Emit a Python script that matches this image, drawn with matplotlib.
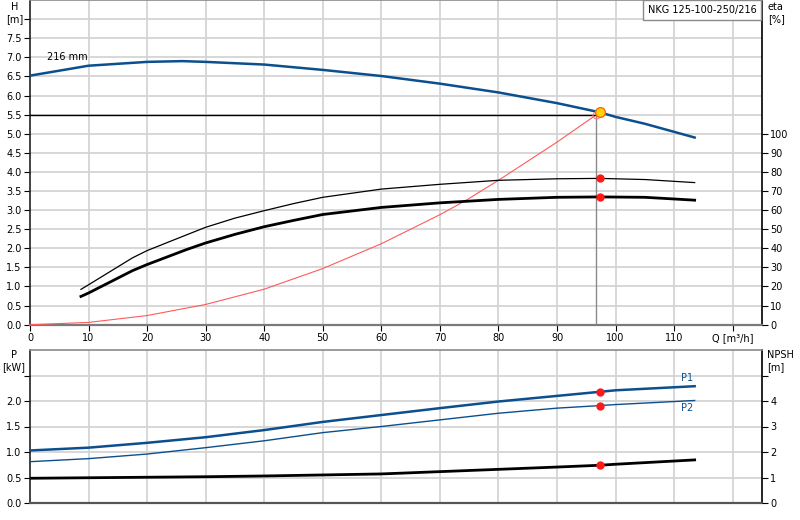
import matplotlib
matplotlib.use("Agg")
import matplotlib.pyplot as plt

# ---- data ----
q_head = [0, 10, 20, 26, 30, 40, 50, 60, 70, 80, 90, 97.3, 100, 105, 113.5]
h_head = [6.52, 6.78, 6.88, 6.90, 6.88, 6.81, 6.67, 6.51, 6.31, 6.08, 5.80, 5.56, 5.44, 5.26, 4.90]

q_eta = [8.7, 10, 17.5, 20, 26.7, 30, 35, 40, 45, 50, 60, 70, 80, 90, 97.3, 105, 113.5]
eta_thin = [18.5, 20.9, 35.0, 38.8, 47.0, 51.0, 55.8, 59.7, 63.4, 66.7, 71.0, 73.5, 75.6, 76.4, 76.6, 76.0, 74.4]
eta_thick = [14.8, 16.6, 28.3, 31.5, 39.3, 42.8, 47.3, 51.3, 54.6, 57.7, 61.4, 63.8, 65.6, 66.7, 66.9, 66.7, 65.2]

q_sys = [0, 10, 20, 30, 40, 50, 60, 70, 74.4, 80, 90, 97.3]
h_sys = [0, 0.06, 0.24, 0.53, 0.93, 1.47, 2.12, 2.88, 3.25, 3.78, 4.78, 5.56]

q_req, h_req = 96.7, 5.5
q_duty, h_duty = 97.3, 5.56
eta_duty = [76.6, 66.9]

q_pow = [0, 10, 20, 30, 40, 50, 60, 70, 80, 90, 97.3, 100, 113.5]
p1 = [1.03, 1.085, 1.18, 1.29, 1.43, 1.59, 1.725, 1.86, 1.99, 2.10, 2.18, 2.21, 2.29]
p2 = [0.81, 0.87, 0.96, 1.085, 1.22, 1.38, 1.50, 1.63, 1.76, 1.86, 1.91, 1.93, 2.01]
npsh = [0.97, 0.99, 1.01, 1.03, 1.06, 1.10, 1.14, 1.23, 1.32, 1.41, 1.48, 1.52, 1.69]
p_duty = [2.18, 1.91]
npsh_duty = 1.48

x_ticks = [0, 10, 20, 30, 40, 50, 60, 70, 80, 90, 100, 110, 120]
x_labels = ["0", "10", "20", "30", "40", "50", "60", "70", "80", "90", "100", "110", "Q [m³/h]"]
h_ticks = [0.0, 0.5, 1.0, 1.5, 2.0, 2.5, 3.0, 3.5, 4.0, 4.5, 5.0, 5.5, 6.0, 6.5, 7.0, 7.5, 8.0]
eta_ticks = [0, 10, 20, 30, 40, 50, 60, 70, 80, 90, 100]
p_ticks = [0.0, 0.5, 1.0, 1.5, 2.0, 2.5]
npsh_ticks = [0, 1, 2, 3, 4, 5]
title = "NKG 125-100-250/216"
impeller = "216 mm"

# ---- style ----
BLUE = "#0b4f8e"
GRID = "#d4d4d4"
FS = 7
plt.rcParams["font.family"] = ["DejaVu Sans"]

fig = plt.figure(figsize=(8, 5.2), dpi=100)
ax = fig.add_axes([30/800, 1 - 324.7/520, 732/800, 324.7/520])
axb = fig.add_axes([30/800, 1 - 503/520, 732/800, 153/520])

def style(a, ylim):
    a.set_xlim(0, 125)
    a.set_ylim(*ylim)
    a.set_xticks(x_ticks)
    for x in x_ticks[1:]:
        a.axvline(x, color=GRID, lw=1.3, zorder=0)
    a.spines["left"].set_color("#222222")
    a.spines["left"].set_linewidth(1.2)
    a.spines["right"].set_color("black")
    a.spines["right"].set_linewidth(1.2)
    a.spines["top"].set_color("#8a8a8a")
    a.spines["top"].set_linewidth(1.2)
    a.spines["bottom"].set_color("#7a7a7a")
    a.spines["bottom"].set_linewidth(1.6)
    a.tick_params(axis="both", labelsize=FS, length=4, width=0.8, colors="black", pad=2)

# ---- top panel ----
style(ax, (0, 8.5))
for y in h_ticks[1:]:
    ax.axhline(y, color=GRID, lw=1.3, zorder=0)
ax.set_yticks(h_ticks)
ax.set_yticklabels([f"{v:.1f}" if v < 8 else "" for v in h_ticks])
ax.set_xticklabels(x_labels)

ax.plot(q_head, h_head, color=BLUE, lw=1.8, zorder=4)
ax.plot(q_sys, h_sys, color="#ff5a5a", lw=0.8, zorder=3)
ax.plot([0, q_req], [h_req, h_req], color="black", lw=1.0, zorder=3)
ax.plot([q_req, q_req], [0, h_req], color="#8a8a8a", lw=1.0, zorder=3)
ax.plot([q_req], [h_req], marker="o", ms=5, mfc="none", mec="#ff8080", mew=0.8, zorder=5)
ax.plot([q_duty], [h_duty], marker="o", ms=7, mfc="#ffd400", mec="#ff6a00", mew=1.0, zorder=6)
ax.text(2.85, 7.0, impeller, fontsize=FS, va="center", ha="left")
ax.text(0.9925, 0.985, title, transform=ax.transAxes, fontsize=7, ha="right", va="top",
        bbox=dict(boxstyle="square,pad=0.5", fc="white", ec="#8a8a8a", lw=1.0), zorder=10)

axe = ax.twinx()
axe.set_ylim(0, 170)
axe.set_yticks(eta_ticks)
axe.tick_params(axis="y", labelsize=FS, length=4, width=0.8, pad=2)
for s in axe.spines.values():
    s.set_visible(False)
axe.plot(q_eta, eta_thin, color="black", lw=0.9, zorder=4)
axe.plot(q_eta, eta_thick, color="black", lw=2.0, zorder=4)
axe.plot([q_duty, q_duty], eta_duty, ls="none", marker="o", ms=5, color="#ff1a1a", zorder=6)

# ---- bottom panel ----
style(axb, (0, 3.0))
for y in [0.5, 1.0, 1.5, 2.0, 2.5]:
    axb.axhline(y, color=GRID, lw=1.3, zorder=0)
axb.set_yticks(p_ticks)
axb.set_yticklabels([f"{v:.1f}" if v < 2.5 else "" for v in p_ticks])
axb.tick_params(axis="x", length=0, labelbottom=False)
axb.spines["bottom"].set_color("#555555")
axb.plot(q_pow, p1, color=BLUE, lw=1.8, zorder=4)
axb.plot(q_pow, p2, color=BLUE, lw=1.0, zorder=4)
axb.plot([q_duty, q_duty], p_duty, ls="none", marker="o", ms=5, color="#ff1a1a", zorder=6)
axb.text(112.2, 2.36, "P1", fontsize=FS, color=BLUE, ha="center", va="bottom")
axb.text(112.2, 1.97, "P2", fontsize=FS, color=BLUE, ha="center", va="top")

axn = axb.twinx()
axn.set_ylim(0, 6)
axn.set_yticks(npsh_ticks)
axn.set_yticklabels([str(v) if v < 5 else "" for v in npsh_ticks])
axn.tick_params(axis="y", labelsize=FS, length=4, width=0.8, pad=2)
for s in axn.spines.values():
    s.set_visible(False)
axn.plot(q_pow, npsh, color="black", lw=2.0, zorder=4)
axn.plot([q_duty], [npsh_duty], ls="none", marker="o", ms=5, color="#ff1a1a", zorder=6)

# ---- axis titles ----
fig.text(15/800, 1 - 2/520, "H\n[m]", fontsize=FS, ha="center", va="top", linespacing=1.3)
fig.text(768/800, 1 - 2/520, "eta\n[%]", fontsize=FS, ha="left", va="top", linespacing=1.3)
fig.text(14/800, 1 - 350/520, "P\n[kW]", fontsize=FS, ha="center", va="top", linespacing=1.3)
fig.text(767/800, 1 - 350/520, "NPSH\n[m]", fontsize=FS, ha="left", va="top", linespacing=1.3)

fig.savefig("out.png", dpi=100, facecolor="white")
